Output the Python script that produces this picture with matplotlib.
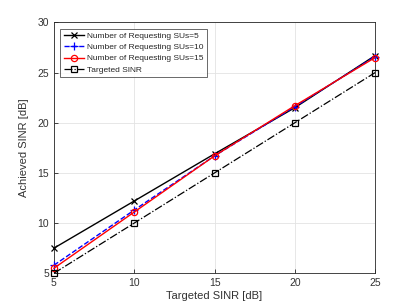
import matplotlib
matplotlib.use("Agg")
import matplotlib.pyplot as plt

plt.rcParams['font.family'] = ['Liberation Sans', 'DejaVu Sans']

target = [5, 10, 15, 20, 25]
su5 = [7.5, 12.2, 16.9, 21.5, 26.7]
su10 = [5.8, 11.3, 16.7, 21.6, 26.6]
su15 = [5.5, 11.1, 16.7, 21.7, 26.5]
ideal = [5, 10, 15, 20, 25]

fig = plt.figure(figsize=(4.15, 3.07), dpi=100)
ax = fig.add_axes([0.130, 0.110, 0.774, 0.817])

ax.plot(target, su5, color='black', marker='x', ms=4.5, lw=1, mew=0.9,
        label='Number of Requesting SUs=5', clip_on=False, zorder=3)
ax.plot(target, su10, color='blue', ls='--', marker='+', ms=5.5, lw=1, mew=0.9,
        label='Number of Requesting SUs=10', clip_on=False, zorder=3)
ax.plot(target, su15, color='red', marker='o', ms=4.5, lw=1, mfc='none', mew=0.9,
        label='Number of Requesting SUs=15', clip_on=False, zorder=3)
ax.plot(target, ideal, color='black', ls='-.', marker='s', ms=4, lw=0.9, mfc='none', mew=0.9,
        label='Targeted SINR', clip_on=False, zorder=3)

ax.set_xlim(5, 25)
ax.set_ylim(5, 30)
ax.set_xticks(target)
ax.set_yticks([5, 10, 15, 20, 25, 30])
ax.grid(True, color='#e3e3e3', lw=0.6)
ax.set_axisbelow(True)
ax.tick_params(labelsize=7.5, direction='in', length=3, color='#262626',
               labelcolor='#333333', width=0.6)
for s in ax.spines.values():
    s.set_color('#262626')
    s.set_linewidth(0.6)
ax.set_xlabel('Targeted SINR [dB]', fontsize=8, color='#333333', labelpad=2)
ax.set_ylabel('Achieved SINR [dB]', fontsize=8, color='#333333', labelpad=6)

leg = ax.legend(loc='upper left', fontsize=6, frameon=True, fancybox=False,
                edgecolor='#262626', handlelength=2.5, borderpad=0.4,
                labelspacing=0.42, handletextpad=0.35, borderaxespad=0.75)
leg.get_frame().set_linewidth(0.6)
for t in leg.get_texts():
    t.set_color('#262626')

fig.savefig('out.png', dpi=100)
